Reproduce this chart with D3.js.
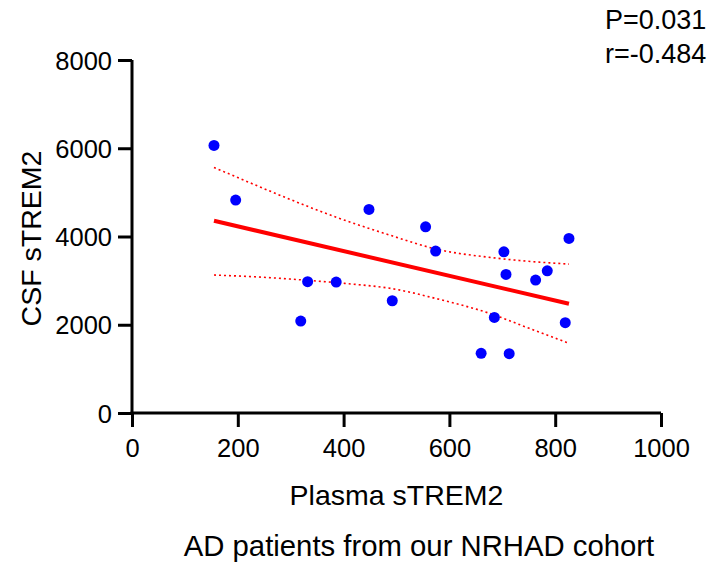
<!DOCTYPE html>
<html>
<head>
<meta charset="utf-8">
<script src="https://cdn.jsdelivr.net/npm/d3@7"></script>
<style>
  html, body { margin: 0; padding: 0; background: #fff; }
  svg { display: block; }
  text { font-family: "Liberation Sans", Arial, sans-serif; fill: #000; }
</style>
</head>
<body>
<svg id="chart" width="720" height="565"></svg>
<script>
// ---- data ----
const plasma = [155, 196, 448, 332, 386, 319, 492, 555, 574, 703, 826, 707, 785, 763, 685, 819, 660, 713];
const csf    = [6063, 4825, 4613, 2975, 2967, 2084, 2544, 4220, 3669, 3654, 3957, 3141, 3223, 3012, 2167, 2046, 1352, 1344];

const fitX = [155, 826];
const fitY = [4356, 2476];

const upperX = [155, 201, 264, 326, 389, 452, 493, 575, 676, 738, 826];
const upperY = [5565, 5330, 5012, 4711, 4424, 4168, 4009, 3715, 3527, 3450, 3375];
const lowerX = [155, 232, 326, 402, 493, 581, 676, 751, 826];
const lowerY = [3126, 3087, 3012, 2937, 2815, 2575, 2258, 1918, 1579];

const xTicks = [0, 200, 400, 600, 800, 1000];
const yTicks = [0, 2000, 4000, 6000, 8000];

const xTitle = "Plasma sTREM2";
const yTitle = "CSF sTREM2";
const caption = "AD patients from our NRHAD cohort";
const statLines = ["P=0.031", "r=-0.484"];

// ---- drawing ----
const svg = d3.select("#chart");
const mLeft = 132, mRight = 661, mTop = 60, mBottom = 413;

const x = d3.scaleLinear().domain([0, 1000]).range([mLeft, mRight]);
const y = d3.scaleLinear().domain([0, 8000]).range([mBottom, mTop]);

const fmt = d3.format("d");
const xAxis = svg.append("g")
  .attr("transform", `translate(0,${mBottom})`)
  .call(d3.axisBottom(x).tickValues(xTicks).tickFormat(fmt).tickSize(14).tickPadding(7).tickSizeOuter(0));
const yAxis = svg.append("g")
  .attr("transform", `translate(${mLeft},0)`)
  .call(d3.axisLeft(y).tickValues(yTicks).tickFormat(fmt).tickSize(14).tickPadding(6).tickSizeOuter(0));

[xAxis, yAxis].forEach(g => {
  g.select(".domain").attr("stroke", "#000").attr("stroke-width", 3);
  g.selectAll(".tick line").attr("stroke", "#000").attr("stroke-width", 3);
  g.selectAll(".tick text")
    .attr("font-family", "'Liberation Sans', Arial, sans-serif")
    .attr("font-size", 25.5)
    .attr("fill", "#000");
});
xAxis.selectAll(".tick text").attr("dy", "0.9em");
yAxis.selectAll(".tick text").attr("dy", "0.36em");
// extend domains to meet at the corner
xAxis.select(".domain").attr("d", `M${mLeft - 1.5},0H${mRight}`);
yAxis.select(".domain").attr("d", `M0,${mTop}V${mBottom + 1.5}`);

const line = d3.line().x(d => x(d[0])).y(d => y(d[1]));
const curve = d3.line().x(d => x(d[0])).y(d => y(d[1])).curve(d3.curveMonotoneX);

// confidence band
svg.append("path")
  .datum(upperX.map((v, i) => [v, upperY[i]]))
  .attr("d", curve)
  .attr("fill", "none").attr("stroke", "#ff0000")
  .attr("stroke-width", 1.6).attr("stroke-dasharray", "2,3");
svg.append("path")
  .datum(lowerX.map((v, i) => [v, lowerY[i]]))
  .attr("d", curve)
  .attr("fill", "none").attr("stroke", "#ff0000")
  .attr("stroke-width", 1.6).attr("stroke-dasharray", "2,3");

// regression line
svg.append("path")
  .datum(fitX.map((v, i) => [v, fitY[i]]))
  .attr("d", line)
  .attr("fill", "none").attr("stroke", "#ff0000").attr("stroke-width", 4);

// points
svg.append("g").selectAll("circle")
  .data(plasma.map((v, i) => [v, csf[i]]))
  .join("circle")
  .attr("cx", d => x(d[0]))
  .attr("cy", d => y(d[1]))
  .attr("r", 5.5)
  .attr("fill", "#0000ff");

// titles
svg.append("text")
  .attr("x", (mLeft + mRight) / 2).attr("y", 505)
  .attr("text-anchor", "middle").attr("font-size", 28.5)
  .text(xTitle);
svg.append("text")
  .attr("transform", `translate(41,${(mTop + mBottom) / 2 + 2}) rotate(-90)`)
  .attr("text-anchor", "middle").attr("font-size", 28.5)
  .text(yTitle);
svg.append("text")
  .attr("x", 419).attr("y", 556)
  .attr("text-anchor", "middle").attr("font-size", 29.3)
  .text(caption);
svg.append("g").selectAll("text")
  .data(statLines)
  .join("text")
  .attr("x", 605).attr("y", (d, i) => 29 + i * 34)
  .attr("font-size", 27)
  .text(d => d);
</script>
</body>
</html>
